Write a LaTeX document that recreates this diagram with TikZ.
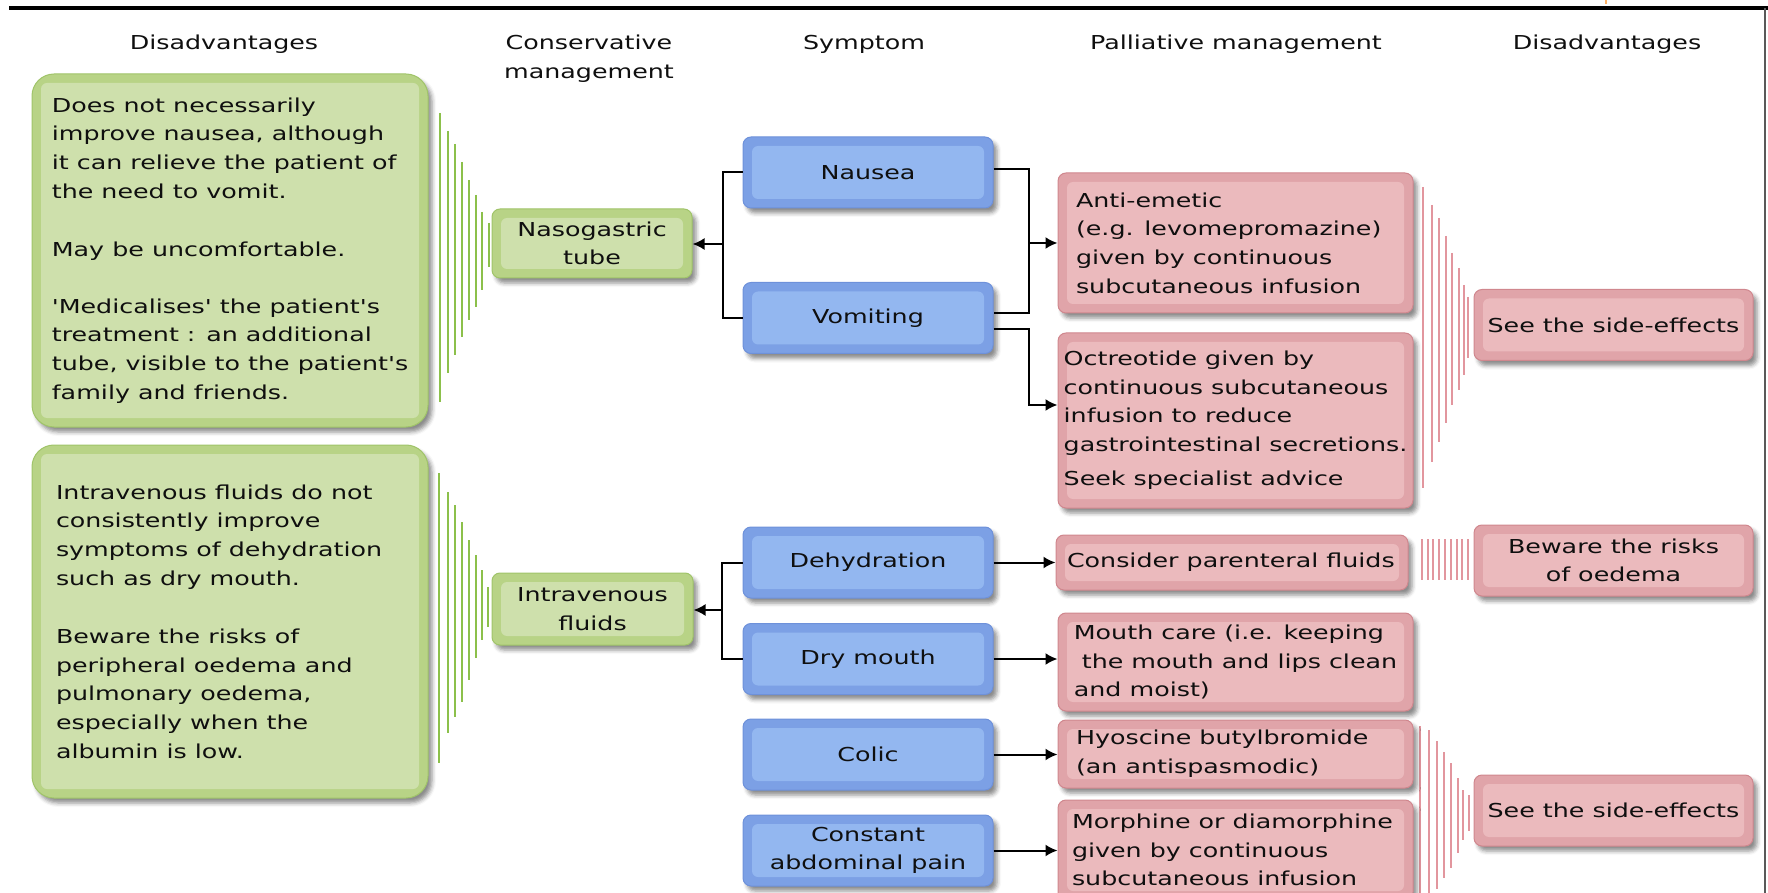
\documentclass[tikz,border=0pt]{standalone}
\usepackage{fontspec}
\newfontfamily\dfont{DejaVu Sans}[FakeStretch=1.32]
\usetikzlibrary{arrows.meta,shadows.blur}

\definecolor{gOut}{RGB}{184,211,134}
\definecolor{gIn}{RGB}{206,224,172}
\definecolor{gLine}{RGB}{160,196,105}
\definecolor{bOut}{RGB}{124,160,229}
\definecolor{bIn}{RGB}{147,183,240}
\definecolor{bLine}{RGB}{110,145,218}
\definecolor{rOut}{RGB}{224,164,169}
\definecolor{rIn}{RGB}{235,186,189}
\definecolor{rLine}{RGB}{208,135,142}
\definecolor{gFan}{RGB}{140,192,75}
\definecolor{rFan}{RGB}{226,150,158}
\definecolor{txt}{RGB}{15,15,15}

\newcommand{\txtfont}{\dfont\fontsize{9.6}{14.3}\selectfont}
\newcommand{\fw}[2]{\makebox[#1][l]{#2}}

\tikzset{
  basebox/.style={rectangle, rounded corners=4pt, inner sep=0pt, align=center,
    text=txt, font=\txtfont, line width=0.5pt,
    blur shadow={shadow xshift=2pt, shadow yshift=-2.5pt, shadow blur radius=2pt, shadow opacity=45}},
  innerfill/.style={path picture={\fill[#1, rounded corners=3pt]
      ([xshift=4.5pt,yshift=-4.5pt]path picture bounding box.north west) rectangle
      ([xshift=-4.5pt,yshift=4.5pt]path picture bounding box.south east);}},
  greenbox/.style={basebox, fill=gOut, draw=gLine, innerfill=gIn},
  bigbox/.style={greenbox, rounded corners=11pt, align=left, minimum width=198pt, minimum height=176.5pt},
  symbox/.style={basebox, fill=bOut, draw=bLine, innerfill=bIn, minimum width=125pt, minimum height=35.5pt},
  redbox/.style={basebox, fill=rOut, draw=rLine, innerfill=rIn},
  palbox/.style={redbox, align=left, minimum width=177.5pt},
  sidebox/.style={redbox, minimum width=139.5pt, minimum height=35.5pt},
  hdr/.style={font=\txtfont, text=txt, inner sep=0pt},
  conn/.style={line width=1pt, black},
  arr/.style={conn, -{Latex[length=6pt,width=6pt]}},
  gfan/.style={gFan, line width=0.8pt},
  rfan/.style={rFan, line width=0.8pt}
}

\begin{document}
\begin{tikzpicture}[x=0.5pt,y=-0.5pt]
\useasboundingbox (0,0) rectangle (1768,893);

% frame
\draw[black, line width=2pt] (9,8) -- (1768,8);
\draw[black!65, line width=1pt] (1765,8) -- (1765,893);
\draw[orange!60, line width=1pt] (1606,0) -- (1606,4);

% headers
\node[hdr, anchor=base] (h1) at (224,50) {Disadvantages};
\node[hdr, align=center] (h2) at (589,59) {Conservative\\management};
\node[hdr, anchor=base] (h3) at (864,50) {Symptom};
\node[hdr, anchor=base] (h4) at (1236,50) {Palliative management};
\node[hdr, anchor=base] (h5) at (1607,50) {Disadvantages};

% fans
\foreach \x/\a/\b in {440/113/402,448/131/373,455/144/355,462/162/337,469/180/320,476/195/307,482/212/290,489/223/267}
  \draw[gfan] (\x,\a) -- (\x,\b);
\foreach \x/\a/\b in {439/473/763,448/492/733,455/505/717,462/522/702,469/540/680,476/555/658,482/570/640,488/587/627}
  \draw[gfan] (\x,\a) -- (\x,\b);
\foreach \x/\a/\b in {1423/187/488,1432/205/462,1439/218/442,1446/236/423,1452/253/405,1459/268/390,1464/285/375,1468/297/358}
  \draw[rfan] (\x,\a) -- (\x,\b);
\foreach \x in {1422,1428,1433,1439,1445,1451,1457,1462,1468}
  \draw[rfan] (\x,539) -- (\x,580);
\foreach \x/\a/\b in {1420/726/904,1429/730/900,1437/741/889,1444/752/878,1451/763/868,1458/778/853,1463/790/840,1469/795/831}
  \draw[rfan] (\x,\a) -- (\x,\b);

% disadvantages (left)
\node[bigbox] (dis1) at (230,250.5) {\fw{174pt}{Does not necessarily}\\
improve nausea, although\\
it can relieve the patient of\\
the need to vomit.\\[15pt]
May be uncomfortable.\\[14pt]
'Medicalises' the patient's\\
treatment : an additional\\
tube, visible to the patient's\\
family and friends.};
\node[bigbox] (dis2) at (230,621.5) {\fw{174pt}{Intravenous fluids do not}\\
consistently improve\\
symptoms of dehydration\\
such as dry mouth.\\[15pt]
Beware the risks of\\
peripheral oedema and\\
pulmonary oedema,\\
especially when the\\
albumin is low.};

% conservative management
\node[greenbox, minimum width=100pt, minimum height=34.5pt] (ng) at (592,243.5) {Nasogastric\\tube};
\node[greenbox, minimum width=100.5pt, minimum height=36pt] (iv) at (592.5,609) {Intravenous\\fluids};

% symptoms
\node[symbox] (nausea) at (868,172.5) {Nausea};
\node[symbox] (vomit) at (868,318) {Vomiting};
\node[symbox] (dehyd) at (868,562.5) {Dehydration};
\node[symbox] (dry) at (868,659) {Dry mouth};
\node[symbox] (colic) at (868,754.5) {Colic};
\node[symbox] (pain) at (868,850.5) {Constant\\abdominal pain};

% palliative management
\node[palbox, minimum height=70pt] (anti) at (1235.5,243) {\fw{159.5pt}{Anti-emetic}\\(e.g. levomepromazine)\\given by continuous\\subcutaneous infusion};
\node[palbox, minimum height=87.5pt] (oct) at (1235.5,420.5) {\fw{167.5pt}{Octreotide given by}\\continuous subcutaneous\\infusion to reduce\\gastrointestinal secretions.\\[3pt]Seek specialist advice};
\node[palbox, minimum width=176pt, minimum height=27.5pt] (par) at (1232,562.5) {\fw{165pt}{Consider parenteral fluids}};
\node[palbox, minimum height=49pt] (mouth) at (1235.5,662) {\fw{161.5pt}{Mouth care (i.e. keeping}\\\hspace*{4pt}the mouth and lips clean\\and moist)};
\node[palbox, minimum height=34pt] (hyo) at (1235.5,754) {\fw{159.5pt}{Hyoscine butylbromide}\\(an antispasmodic)};
\node[palbox, minimum height=50pt] (morph) at (1235.5,850) {\fw{163.5pt}{Morphine or diamorphine}\\given by continuous\\subcutaneous infusion};

% disadvantages (right)
\node[sidebox] (se1) at (1613.5,325) {See the side-effects};
\node[sidebox] (bew) at (1613.5,560.5) {Beware the risks\\of oedema};
\node[sidebox] (se2) at (1613.5,810.5) {See the side-effects};

% connectors
\coordinate (lb1) at (723,244);
\coordinate (lb2) at (722,610);
\coordinate (rb1) at (1029,243);
\coordinate (rb2) at (1029,405);

\draw[conn] (nausea.west) -| (lb1) |- (vomit.west);
\draw[arr] (lb1) -- (lb1 -| ng.east);
\draw[conn] ([yshift=1.5pt]nausea.east) -| (rb1) |- ([yshift=2.5pt]vomit.east);
\draw[arr] (rb1) -- (rb1 -| anti.west);
\draw[arr] ([yshift=-5.5pt]vomit.east) -| (rb2) -- (rb2 -| oct.west);

\draw[conn] (dehyd.west) -| (lb2) |- (dry.west);
\draw[arr] (lb2) -- (lb2 -| iv.east);
\draw[arr] (dehyd.east) -- (dehyd.east -| par.west);
\draw[arr] (dry.east) -- (dry.east -| mouth.west);
\draw[arr] (colic.east) -- (colic.east -| hyo.west);
\draw[arr] (pain.east) -- (pain.east -| morph.west);
\end{tikzpicture}
\end{document}
